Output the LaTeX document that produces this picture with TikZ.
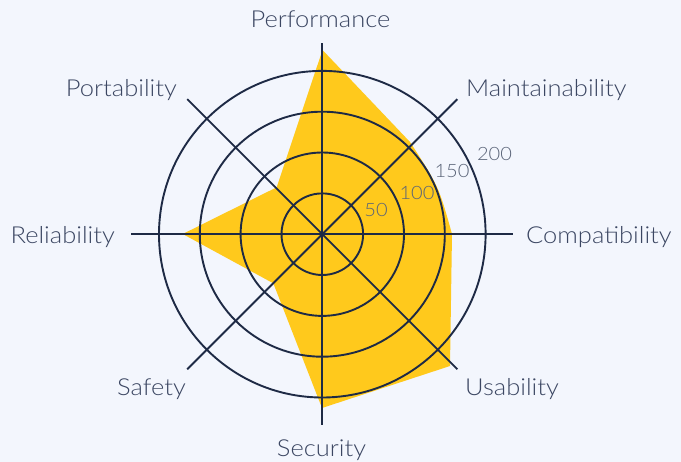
\documentclass[tikz,border=0pt]{standalone}
\usepackage{fontspec}
\setmainfont{Lato}[UprightFont=* Light, FakeStretch=1.09]
\usetikzlibrary{calc}
\definecolor{bg}{HTML}{F3F6FD}
\definecolor{gridc}{HTML}{1E2A45}
\definecolor{radar}{HTML}{FFC91C}
\definecolor{labc}{HTML}{3B4662}
\definecolor{tickc}{HTML}{5A6478}
\tikzset{
  gridline/.style={draw=gridc, line width=1.9bp},
  radarfill/.style={fill=radar},
  lab/.style={inner sep=0pt, text=labc, font=\fontsize{23.4bp}{28bp}\selectfont},
  ticklab/.style={inner sep=0pt, text=tickc, font=\fontsize{18.4bp}{22bp}\selectfont, anchor=base},
}
\begin{document}
\begin{tikzpicture}[x=1bp,y=-1bp]
\useasboundingbox[fill=bg] (0,0) rectangle (681,462);
\coordinate (c) at (322.3,234.2);
% data polygon
\fill[radarfill] (322.5,50) -- (410,142) .. controls (438.5,185.9) .. (452,234) -- (450,366) -- (322,408) -- (273.3,283.3) -- (182.7,234) -- (276.7,187.3) -- cycle;
% rings
\foreach \r in {40.8,81.7,122.5,163.3} \draw[gridline] (c) circle[radius=\r];
% axes
\foreach \a/\n in {90/aN,45/aNE,0/aE,-45/aSE,-90/aS,-135/aSW,180/aW,135/aNW} {
  \coordinate (\n) at ($(c)+({191*cos(\a)},{-191*sin(\a)})$);
  \draw[gridline] (c) -- (\n);
}
% category labels
\node[lab, anchor=base] (perf) at (320.5,27.3) {Performance};
\node[lab, anchor=base west] (maint) at (466,97) {Maintainability};
\node[lab, anchor=base west] (compat) at (526,244) {Compatibility};
\node[lab, anchor=base west] (usab) at (465,395) {Usability};
\node[lab, anchor=base] (secu) at (321.5,456.7) {Security};
\node[lab, anchor=base east] (safe) at (186,395) {Safety};
\node[lab, anchor=base east] (reli) at (115,244) {Reliability};
\node[lab, anchor=base east] (port) at (177,97) {Portability};
% tick labels
\node[ticklab] (t50) at (376,217) {50};
\node[ticklab] (t100) at (417,199.5) {100};
\node[ticklab] (t150) at (452,178) {150};
\node[ticklab] (t200) at (494.5,160.5) {200};
\end{tikzpicture}
\end{document}
